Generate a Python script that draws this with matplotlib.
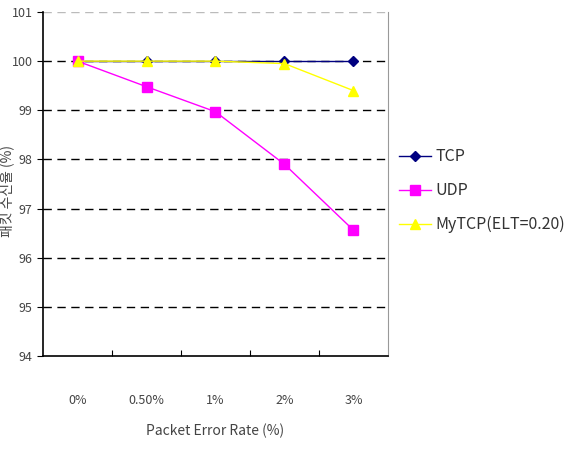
import matplotlib
matplotlib.use('Agg')
import matplotlib.pyplot as plt

plt.rcParams['font.family'] = ['Noto Sans CJK KR', 'DejaVu Sans']

# 데이터
categories = ['0%', '0.50%', '1%', '2%', '3%']
tcp = [100, 100, 100, 100, 100]
udp = [100, 99.48, 98.97, 97.9, 96.56]
mytcp = [100, 100, 100, 99.95, 99.4]

fig = plt.figure(figsize=(5.75, 4.59), dpi=100)
ax = fig.add_axes([43 / 575, 1 - 356 / 459, 345 / 575, 344 / 459])

x = list(range(len(categories)))
ax.plot(x, tcp, color='#000080', marker='D', markersize=5, linewidth=1, label='TCP')
ax.plot(x, udp, color='#ff00ff', marker='s', markersize=6.5, linewidth=1, label='UDP')
ax.plot(x, mytcp, color='#ffff00', marker='^', markersize=6.5, linewidth=1, label='MyTCP(ELT=0.20)')

ax.set_xlim(-0.5, 4.5)
ax.set_ylim(94, 101)
ax.set_yticks(range(94, 102))
ax.set_xticks([i + 0.5 for i in x[:-1]])
ax.set_xticklabels([])
ax.set_xticks(x, minor=True)
ax.set_xticklabels(categories, minor=True)
ax.tick_params(axis='x', which='major', direction='in', length=4)
ax.tick_params(axis='x', which='minor', length=0, pad=27, labelsize=9, labelcolor='#444444')
ax.tick_params(axis='y', length=4, labelsize=9, labelcolor='#444444')

for v in range(95, 101):
    ax.axhline(v, color='black', linestyle=(0, (6, 4)), linewidth=1, zorder=0)
ax.axhline(101, color='#bbbbbb', linestyle=(0, (6, 4)), linewidth=1, zorder=0)

ax.spines['top'].set_visible(False)
ax.spines['right'].set_color('#999999')
ax.spines['left'].set_linewidth(1.2)
ax.spines['bottom'].set_linewidth(1.2)

ax.set_xlabel('Packet Error Rate (%)', fontsize=10, color='#444444', labelpad=12)
ax.set_ylabel('패킷 수신율 (%)', fontsize=10, color='#444444')
ax.yaxis.set_label_coords(-0.083, 0.48)

ax.legend(loc='center left', bbox_to_anchor=(0.99, 0.48), frameon=False,
          fontsize=11.5, handlelength=2.0, handletextpad=0.3, labelspacing=1.05,
          labelcolor='#333333')

fig.savefig('out.png', dpi=100)
